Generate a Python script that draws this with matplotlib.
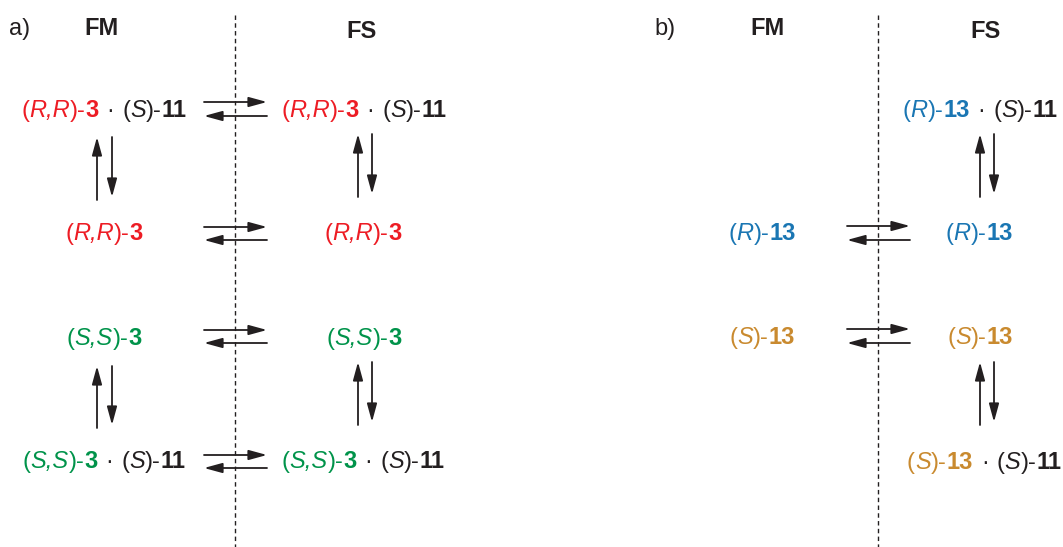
import matplotlib.pyplot as plt
from matplotlib.patches import FancyArrowPatch

# 标签数据
panel_tags = ['a)', 'b)']
phase_names = ['FM', 'FS']
guest_a = ['R,R', 'S,S']
guest_a_num = '3'
guest_b = ['R', 'S']
guest_b_num = '13'
host_conf = 'S'
host_num = '11'

RED = '#ED1C24'
GREEN = '#00934A'
BLUE = '#1A76B3'
GOLD = '#C98A2F'
INK = '#231F20'
FS_ = 17

fig = plt.figure(figsize=(10.63, 5.47), dpi=100)
ax = fig.add_axes([0, 0, 1, 1])
ax.set_xlim(0, 1063)
ax.set_ylim(547, 0)
ax.axis('off')
renderer = fig.canvas.get_renderer()


def segs(conf, num, color, host=False):
    s = [('(', color, 'normal', 'normal', 0), (conf, color, 'italic', 'normal', 0),
         (')-', color, 'normal', 'normal', 0), (num, color, 'normal', 'bold', 0)]
    if host:
        s += [('\u00b7', INK, 'normal', 'normal', 8), ('(', INK, 'normal', 'normal', 8),
              (host_conf, INK, 'italic', 'normal', 0),
              (')-', INK, 'normal', 'normal', 0), (host_num, INK, 'normal', 'bold', 0)]
    return s


def chain(xc, y, parts):
    txts = []
    for t, c, st, w, pad in parts:
        txts.append(ax.text(0, y, t, color=c, style=st, weight=w, fontsize=FS_,
                            family='Liberation Sans', va='baseline', ha='left'))
    widths = [tt.get_window_extent(renderer).width for tt in txts]
    pads = [p[4] for p in parts]
    x = xc - (sum(widths) + sum(pads)) / 2
    for tt, w, p in zip(txts, widths, pads):
        x += p
        tt.set_x(x)
        x += w


def arrow(x0, y0, x1, y1):
    ax.add_patch(FancyArrowPatch((x0, y0), (x1, y1),
                                 arrowstyle='-|>,head_length=1.1,head_width=0.3',
                                 mutation_scale=10, lw=1.3, color=INK,
                                 shrinkA=0, shrinkB=0))


def eq_h(x0, x1, ytop, ybot):
    arrow(x0, ytop, x1, ytop)
    arrow(x1, ybot, x0, ybot)


def eq_v(xu, xd, ytop, ybot):
    arrow(xu, ybot, xu, ytop)
    arrow(xd, ytop, xd, ybot - 3)


# 表头与虚线
for x0, tag, xfm, xfs, xd in [(9, panel_tags[0], 102, 362, 235),
                              (654, panel_tags[1], 767, 985, 878)]:
    ax.text(x0, 35, tag, fontsize=FS_, family='Liberation Sans', color=INK)
    ax.text(xfm, 35, phase_names[0], fontsize=FS_, weight='bold',
            family='Liberation Sans', color=INK, ha='center')
    ax.text(xfs, 38, phase_names[1], fontsize=FS_, weight='bold',
            family='Liberation Sans', color=INK, ha='center')
    ax.plot([xd, xd], [15, 547], ls=(0, (3.2, 2.4)), lw=1.0, color=INK)

# a) 部分
chain(104, 117, segs(guest_a[0], guest_a_num, RED, host=True))
chain(364, 117, segs(guest_a[0], guest_a_num, RED, host=True))
chain(104, 240, segs(guest_a[0], guest_a_num, RED))
chain(363, 240, segs(guest_a[0], guest_a_num, RED))
chain(104, 345, segs(guest_a[1], guest_a_num, GREEN))
chain(364, 345, segs(guest_a[1], guest_a_num, GREEN))
chain(104, 468, segs(guest_a[1], guest_a_num, GREEN, host=True))
chain(363, 468, segs(guest_a[1], guest_a_num, GREEN, host=True))

for yt, yb in [(102, 116), (227, 240), (330, 343), (455, 468)]:
    eq_h(204, 267, yt, yb)
eq_v(97, 112, 137, 200)
eq_v(358, 372, 134, 197)
eq_v(97, 112, 366, 428)
eq_v(358, 372, 362, 425)

# b) 部分
chain(980, 117, segs(guest_b[0], guest_b_num, BLUE, host=True))
chain(762, 240, segs(guest_b[0], guest_b_num, BLUE))
chain(979, 240, segs(guest_b[0], guest_b_num, BLUE))
chain(762, 344, segs(guest_b[1], guest_b_num, GOLD))
chain(980, 344, segs(guest_b[1], guest_b_num, GOLD))
chain(984, 469, segs(guest_b[1], guest_b_num, GOLD, host=True))

for yt, yb in [(226, 240), (329, 343)]:
    eq_h(847, 910, yt, yb)
eq_v(980, 994, 134, 197)
eq_v(980, 994, 362, 425)

plt.savefig('out.png', dpi=100)
